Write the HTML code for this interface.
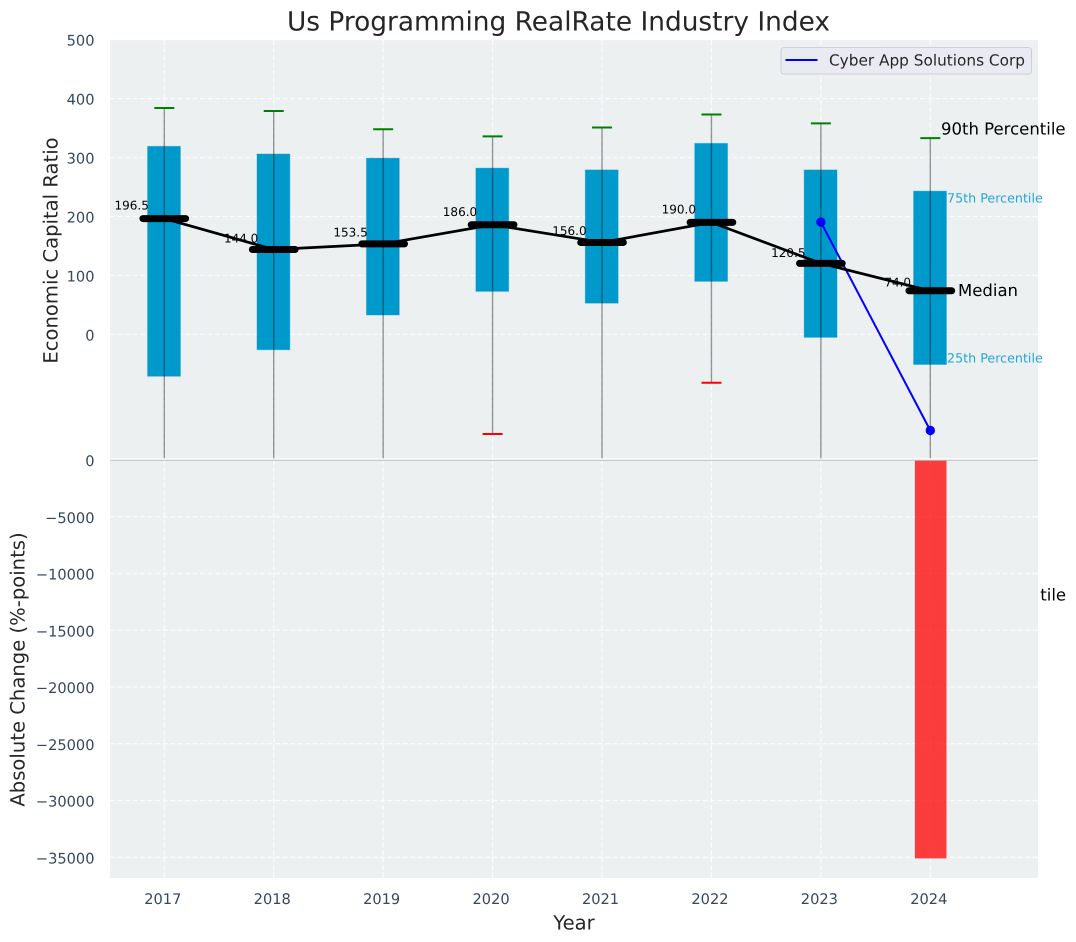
<!DOCTYPE html>
<html lang="en">
<head>
<meta charset="utf-8">
<title>Us Programming RealRate Industry Index</title>
<style>
html,body{margin:0;padding:0;background:#fff;}
svg{display:block;}
text{font-family:"DejaVu Sans","Liberation Sans",sans-serif;text-rendering:geometricPrecision;}
</style>
</head>
<body>
<svg id="chart" xmlns="http://www.w3.org/2000/svg" width="1076" height="942" viewBox="0 0 1076 942">
  <defs>
    <clipPath id="top-clip"><rect x="110" y="40" width="928" height="420"></rect></clipPath>
    <clipPath id="p10-label-clip"><rect x="1040.3" y="570" width="36" height="50"></rect></clipPath>
  </defs>
  <rect x="110" y="40" width="928" height="420" fill="#ecf0f1"></rect>
  <g id="top-grid"></g>
  <g id="top-marks" clip-path="url(#top-clip)"></g>
  <g id="median-labels"></g>
  <text x="941" y="129" font-size="16.5" fill="#000" dominant-baseline="central">90th Percentile</text>
  <text x="947" y="198" font-size="12.7" fill="#0099cc" fill-opacity="0.85" dominant-baseline="central">75th Percentile</text>
  <text x="958" y="290.5" font-size="16.5" fill="#000" dominant-baseline="central">Median</text>
  <text x="947" y="358" font-size="12.7" fill="#0099cc" fill-opacity="0.85" dominant-baseline="central">25th Percentile</text>
  <g clip-path="url(#p10-label-clip)">
    <text x="941.5" y="595" font-size="16.5" fill="#000" dominant-baseline="central">10th Percentile</text>
  </g>

  <rect x="110" y="460" width="928" height="418" fill="#ecf0f1"></rect>
  <g id="bottom-grid"></g>
  <g id="bottom-marks"></g>
  <line x1="110" x2="1038" y1="459" y2="459" stroke="#fff" stroke-width="1.4"></line>
  <line x1="110" x2="1038" y1="460.3" y2="460.3" stroke="#bdbdbd" stroke-width="1"></line>

  <g id="tick-labels"></g>

  <text x="558.5" y="22" font-size="26.4" fill="#262626" text-anchor="middle" dominant-baseline="central">Us Programming RealRate Industry Index</text>
  <text x="574" y="923" font-size="19.6" fill="#262626" text-anchor="middle" dominant-baseline="central">Year</text>
  <text transform="translate(51 250.5) rotate(-90)" font-size="19.6" fill="#262626" text-anchor="middle" dominant-baseline="central">Economic Capital Ratio</text>
  <text transform="translate(18 669.5) rotate(-90)" font-size="19.6" fill="#262626" text-anchor="middle" dominant-baseline="central">Absolute Change (%-points)</text>

  <g>
    <rect x="781" y="47.5" width="250.5" height="26.5" rx="3" fill="#eaeaf2" stroke="#cfcfd4" stroke-width="1"></rect>
    <line x1="785.5" x2="817.5" y1="60" y2="60" stroke="#0000ff" stroke-width="2"></line>
    <text x="829" y="60.5" font-size="15.3" fill="#262626" dominant-baseline="central">Cyber App Solutions Corp</text>
  </g>
</svg>
<script>
const years = [2017, 2018, 2019, 2020, 2021, 2022, 2023, 2024];
const p75 = [319, 306, 299, 282, 279, 324, 279, 243];
const p25 = [-71, -26, 33, 73, 53, 90, -5, -51];
const p90 = [384, 379, 348, 336, 351, 373, 358, 333];
const p10 = [-260, -240, -250, -169, -230, -82, -280, -441];
const medians = [196.5, 144.0, 153.5, 186.0, 156.0, 190.0, 120.5, 74.0];
const medianLabels = ["196.5", "144.0", "153.5", "186.0", "156.0", "190.0", "120.5", "74.0"];
const companyYears = [2023, 2024];
const companyValues = [190.5, -163];
const changeYears = [2024];
const changeValues = [-35100];
const topTicks = [500, 400, 300, 200, 100, 0];
const bottomTicks = [0, -5000, -10000, -15000, -20000, -25000, -30000, -35000];

const NS = 'http://www.w3.org/2000/svg';
const x = function (yr) { return 164.3 + (yr - 2017) * 109.43; };
const yTop = function (v) { return 334.4 - v * 0.5895; };
const yBottom = function (v) { return 460 - v * 0.01135; };
const yearWidth = x(2018) - x(2017);

function make(tag, attrs, parent, text) {
  const node = document.createElementNS(NS, tag);
  for (const k in attrs) node.setAttribute(k, attrs[k]);
  if (text !== undefined) node.textContent = text;
  parent.appendChild(node);
  return node;
}

const topGrid = document.getElementById('top-grid');
const bottomGrid = document.getElementById('bottom-grid');
const topMarks = document.getElementById('top-marks');
const bottomMarks = document.getElementById('bottom-marks');
const labelsGroup = document.getElementById('median-labels');
const tickGroup = document.getElementById('tick-labels');
const gridStyle = { stroke: '#ffffff', 'stroke-width': 1.2, 'stroke-opacity': 0.8, 'stroke-dasharray': '5.2 2.3' };

topTicks.forEach(function (t) {
  const gl = make('line', Object.assign({ x1: 110, x2: 1038, y1: yTop(t), y2: yTop(t) }, gridStyle), topGrid);
  
  
  const tl = make('text', { x: 94.5, y: yTop(t) + 1.5, 'font-size': 14.6, fill: '#34495e', 'text-anchor': 'end', 'dominant-baseline': 'central' }, tickGroup, String(t));
  
  
});

bottomTicks.forEach(function (t) {
  const gl = make('line', Object.assign({ x1: 110, x2: 1038, y1: yBottom(t), y2: yBottom(t) }, gridStyle), bottomGrid);
  
  
  const tl = make('text', { x: 94.5, y: yBottom(t) + 1.5, 'font-size': 14.6, fill: '#34495e', 'text-anchor': 'end', 'dominant-baseline': 'central' }, tickGroup, String(t).replace('-', '\u2212'));
  
  
});

years.forEach(function (yr) {
  const g1 = make('line', Object.assign({ x1: x(yr), x2: x(yr), y1: 40, y2: 460 }, gridStyle), topGrid);
  
  
  const g2 = make('line', Object.assign({ x1: x(yr), x2: x(yr), y1: 460, y2: 878 }, gridStyle), bottomGrid);
  
  
  const tl = make('text', { x: x(yr) - 1.5, y: 899.5, 'font-size': 14.6, fill: '#34495e', 'text-anchor': 'middle', 'dominant-baseline': 'central' }, tickGroup, String(yr));
  
  
});

years.forEach(function (yr, i) {
  const box = make('rect', {
    x: x(yr) - yearWidth * 0.15 - 0.3, y: yTop(p75[i]),
    width: yearWidth * 0.3, height: yTop(p25[i]) - yTop(p75[i]),
    fill: '#0099cc', stroke: '#0099cc', 'stroke-opacity': 0.4, 'stroke-width': 1
  }, topMarks);
  
  
});

years.forEach(function (yr, i) {
  const wh = make('line', {
    x1: x(yr), x2: x(yr), y1: yTop(p90[i]), y2: yTop(p10[i]),
    stroke: '#000', 'stroke-opacity': 0.4, 'stroke-width': 1.4
  }, topMarks);
  
  
  const capHigh = make('line', {
    x1: x(yr) - 10, x2: x(yr) + 10, y1: yTop(p90[i]), y2: yTop(p90[i]),
    stroke: '#008000', 'stroke-width': 2
  }, topMarks);
  
  
  const capLow = make('line', {
    x1: x(yr) - 10, x2: x(yr) + 10, y1: yTop(p10[i]), y2: yTop(p10[i]),
    stroke: '#ff0000', 'stroke-width': 2
  }, topMarks);
  
  
});

const companyLine = make('polyline', {
  points: companyYears.map(function (yr, i) { return x(yr) + ',' + yTop(companyValues[i]); }).join(' '),
  fill: 'none', stroke: '#0000ff', 'stroke-width': 2
}, topMarks);


companyYears.forEach(function (yr, i) {
  const dot = make('circle', { cx: x(yr), cy: yTop(companyValues[i]), r: 4.7, fill: '#0000ff' }, topMarks);
  
  
});

const trend = make('polyline', {
  points: years.map(function (yr, i) { return x(yr) + ',' + yTop(medians[i]); }).join(' '),
  fill: 'none', stroke: '#000', 'stroke-width': 2.7
}, topMarks);



years.forEach(function (yr, i) {
  const m = make('line', {
    x1: x(yr) - yearWidth * 0.195, x2: x(yr) + yearWidth * 0.195, y1: yTop(medians[i]), y2: yTop(medians[i]),
    stroke: '#000', 'stroke-width': 7, 'stroke-linecap': 'round'
  }, topMarks);
  
  
  const lb = make('text', {
    x: x(yr) - 32.6, y: yTop(medians[i] * 1.0623) - 5.8,
    'font-size': 12, fill: '#000', 'text-anchor': 'middle', 'dominant-baseline': 'central'
  }, labelsGroup, medianLabels[i]);
  
  
});

changeYears.forEach(function (yr, i) {
  const bar = make('rect', {
    x: x(yr) - 15.4, y: yBottom(0), width: 31.6, height: yBottom(changeValues[i]) - yBottom(0),
    fill: '#ff0000', 'fill-opacity': 0.75
  }, bottomMarks);
  
  
});
</script>
</body>
</html>
